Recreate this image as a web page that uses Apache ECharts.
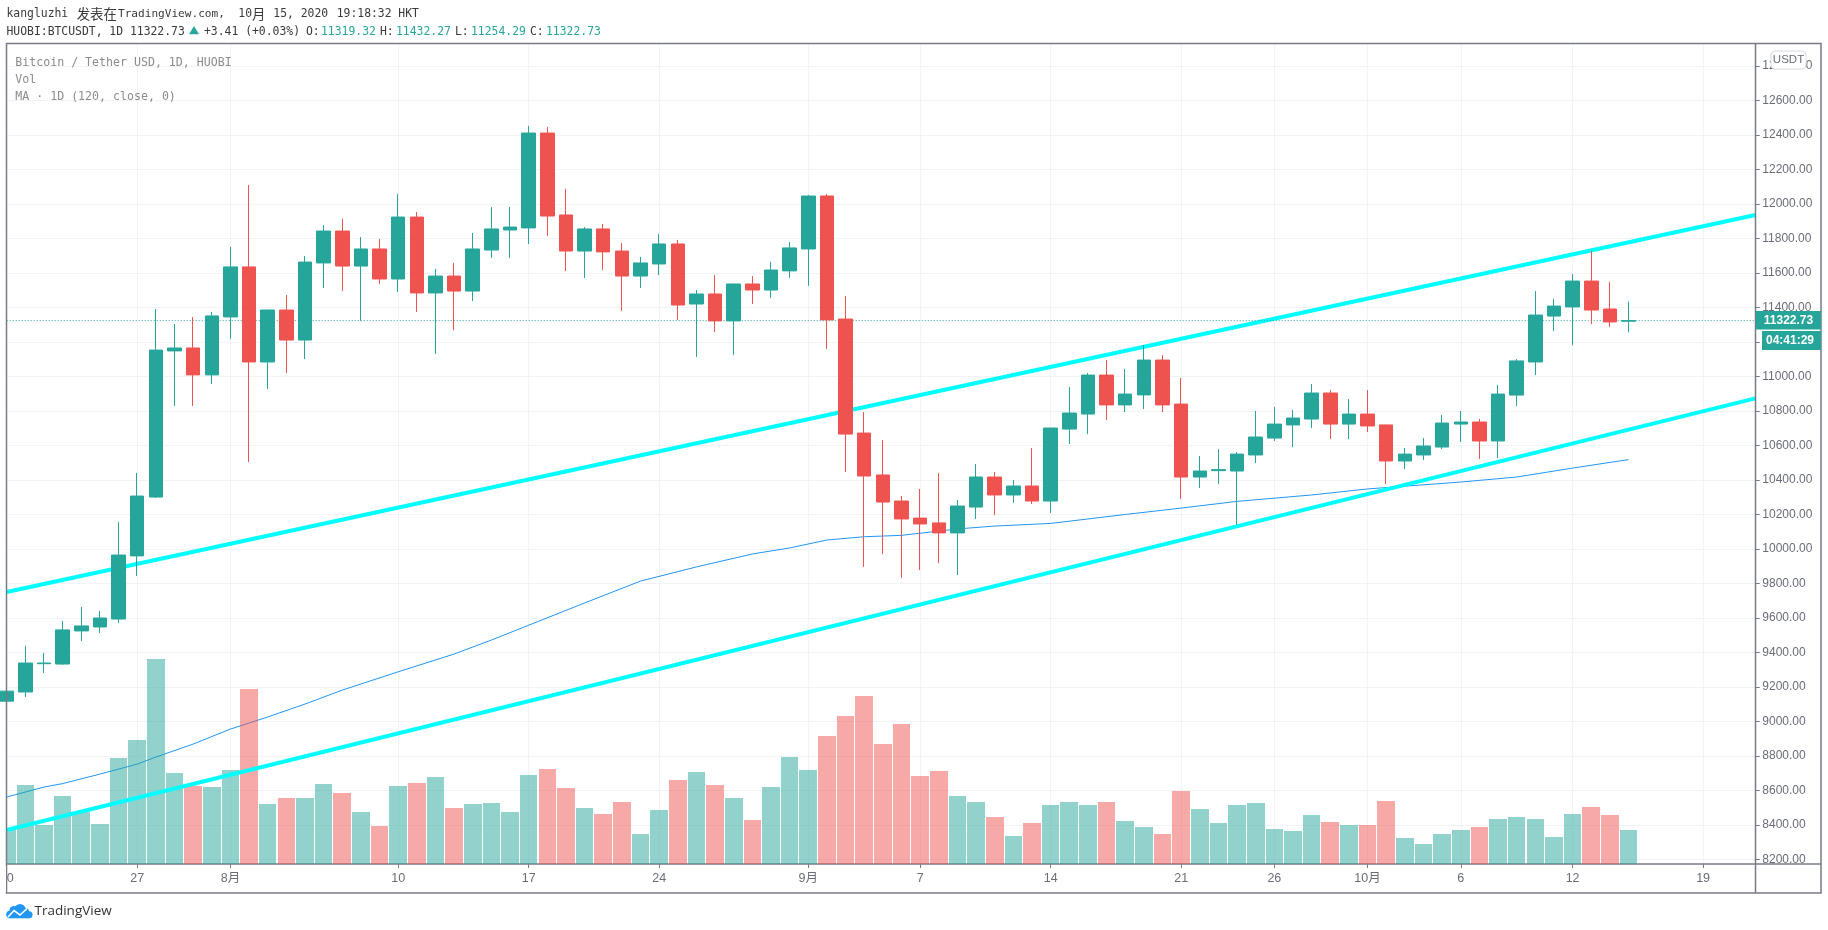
<!DOCTYPE html>
<html>

<head>
    <meta charset="utf-8">
    <title>BTCUSDT 1D</title>
    <script src="https://cdn.jsdelivr.net/npm/echarts@6/dist/echarts.min.js"></script>
    <style>
        body { margin: 0; background: #fff; }
        #chart { width: 1828px; height: 930px; }
    </style>
</head>

<body>
    <div id="chart"></div>
    <script>
        // daily candles, index 0 = 20 Jul 2020, last = 15 Oct 2020
        const opens = [9117, 9170, 9334, 9332, 9524, 9547, 9593, 9959, 10300, 11147,
            11164, 11008, 11344, 11634, 11083, 11384, 11210, 11657, 11842, 11639,
            11738, 11564, 11923, 11483, 11581, 11494, 11732, 11848, 11860, 12410,
            11935, 11726, 11854, 11726, 11581, 11651, 11767, 11419, 11477, 11321,
            11535, 11500, 11611, 11738, 12045, 11332, 10671, 10428, 10277, 10178,
            10150, 10092, 10242, 10416, 10312, 10364, 10277, 10694, 10781, 11007,
            10834, 10892, 11094, 10839, 10416, 10453, 10451, 10544, 10642, 10718,
            10752, 10903, 10723, 10781, 10718, 10509, 10544, 10590, 10723, 10735,
            10625, 10891, 11083, 11349, 11402, 11552, 11390, 11319.32];
        const closes = [9175, 9338, 9338, 9530, 9553, 9599, 9964, 10306, 11152, 11164,
            11008, 11350, 11634, 11083, 11384, 11210, 11662, 11842, 11639, 11738,
            11564, 11923, 11483, 11581, 11494, 11738, 11854, 11865, 12410, 11929,
            11726, 11854, 11721, 11581, 11657, 11767, 11413, 11477, 11321, 11535,
            11500, 11616, 11744, 12045, 11327, 10665, 10422, 10271, 10173, 10144,
            10092, 10248, 10416, 10312, 10364, 10277, 10700, 10787, 11007, 10834,
            10897, 11094, 10834, 10416, 10451, 10459, 10549, 10648, 10723, 10758,
            10903, 10723, 10781, 10712, 10509, 10549, 10596, 10729, 10735, 10625,
            10897, 11089, 11355, 11407, 11552, 11384, 11315, 11322.73];
        const lows = [9112, 9141, 9280, 9327, 9466, 9512, 9570, 9843, 10295, 10828,
            10828, 10955, 11216, 10503, 10926, 11019, 11100, 11512, 11495, 11322,
            11535, 11489, 11373, 11129, 11268, 11436, 11686, 11686, 11767, 11813,
            11610, 11570, 11616, 11379, 11512, 11587, 11327, 11112, 11257, 11124,
            11419, 11454, 11570, 11524, 11158, 10445, 9895, 9970, 9831, 9877,
            9918, 9848, 10173, 10196, 10266, 10260, 10208, 10607, 10665, 10747,
            10793, 10810, 10793, 10289, 10352, 10375, 10138, 10497, 10625, 10590,
            10700, 10636, 10636, 10677, 10375, 10462, 10515, 10578, 10619, 10520,
            10526, 10828, 11007, 11262, 11181, 11303, 11286, 11254.29];
        const highs = [9180, 9437, 9396, 9582, 9663, 9640, 10156, 10440, 11390, 11303,
            11344, 11373, 11750, 12109, 11386, 11471, 11697, 11877, 11912, 11807,
            11796, 12057, 11952, 11622, 11657, 11831, 11981, 11981, 12451, 12445,
            12086, 11865, 11883, 11773, 11692, 11825, 11790, 11500, 11587, 11537,
            11581, 11663, 11779, 12051, 12057, 11465, 10793, 10631, 10306, 10347,
            10439, 10283, 10492, 10445, 10399, 10584, 10702, 10938, 11019, 11094,
            11042, 11181, 11123, 10990, 10538, 10578, 10561, 10799, 10822, 10805,
            10955, 10920, 10868, 10920, 10720, 10584, 10642, 10776, 10799, 10752,
            10949, 11100, 11494, 11448, 11593, 11726, 11547, 11432.27];
        // no scale on the volume pane in the picture, so relative units only
        const volumes = [102, 237, 117, 204, 156, 120, 318, 372, 615, 273,
            234, 231, 282, 525, 180, 198, 198, 240, 213, 156,
            114, 234, 243, 261, 168, 180, 183, 156, 267, 285,
            228, 168, 150, 186, 90, 162, 252, 276, 237, 198,
            132, 231, 321, 282, 384, 444, 504, 360, 420, 264,
            279, 204, 186, 141, 84, 123, 177, 186, 177, 186,
            129, 111, 90, 219, 165, 123, 177, 183, 105, 99,
            147, 126, 117, 117, 189, 78, 60, 90, 102, 111,
            135, 141, 135, 81, 150, 171, 147, 102];

        // MA(120) read at these days
        const maDays = [0, 2, 3, 5, 7, 8, 10, 12, 14, 16, 18, 21, 24, 26, 31, 34, 37, 40, 42, 44, 46, 48, 51, 53, 56, 60, 63, 66, 70, 73, 78, 81, 84, 87];
        const maValues = [8561, 8619, 8639, 8694, 8752, 8793, 8868, 8955, 9025, 9100, 9181, 9287, 9390, 9471, 9686, 9813, 9895, 9970, 10005, 10051, 10070, 10078, 10115, 10132, 10147, 10199, 10236, 10275, 10312, 10347, 10387, 10416, 10468, 10517];

        // channel lines drawn by the author: [day, price] ends
        const DAY_MAX = 93.8;
        const upperChannel = [[0, 9750], [DAY_MAX, 11935]];
        const lowerChannel = [[0, 8370], [DAY_MAX, 10872]];

        const xTickDays = [0, 7, 12, 21, 28, 35, 43, 49, 56, 63, 68, 73, 78, 84, 91];
        const xTickLabels = ['20', '27', '8月', '10', '17', '24', '9月', '7', '14', '21', '26', '10月', '6', '12', '19'];
        const yTicks = [8200, 8400, 8600, 8800, 9000, 9200, 9400, 9600, 9800, 10000, 10200, 10400, 10600, 10800, 11000, 11200, 11400, 11600, 11800, 12000, 12200, 12400, 12600, 12800];
        const lastPrice = 11322.73;

        const UP = '#26a69a', DOWN = '#ef5350', FRAME = '#787b86', GRID = '#f2f3f8', LABEL = '#6a6d78';
        const MONO = '"DejaVu Sans Mono",monospace';
        const CJK = '"Noto Sans CJK SC"';
        const SCALE_FONT = '"Liberation Sans","Noto Sans CJK SC",sans-serif';

        const candleData = opens.map((o, i) => [i, o, closes[i], lows[i], highs[i]]);
        const volumeData = volumes.map((v, i) => [i, v]);

        function txt(text, x, y, fill, font, extra) {
            return {
                type: 'text', z: 100, silent: true,
                style: Object.assign({ text: text, x: x, y: y, fill: fill, font: font, verticalAlign: 'middle' }, extra || {})
            };
        }
        function logoBlob(cx, cy, r) {
            return { type: 'circle', z: 100, silent: true, shape: { cx: cx, cy: cy, r: r }, style: { fill: '#2196f3' } };
        }
        const headFont = '11.4px ' + MONO;
        const headCjk = '13.4px ' + CJK;
        const legendFont = '11.6px ' + MONO;
        const DARK = '#3a3a3a';

        // a real bar series on a value axis pads the axis extent, so volume goes through custom
        function renderVolume(params, api) {
            const day = api.value(0);
            const top = api.coord([day, api.value(1)]);
            const base = api.coord([day, 0]);
            const x0 = Math.round(top[0] - 8.8);
            const x1 = Math.round(top[0] + 8.8);
            const up = closes[params.dataIndex] >= opens[params.dataIndex];
            return {
                type: 'rect',
                shape: { x: x0, y: top[1], width: x1 - x0, height: base[1] - top[1] },
                style: { fill: up ? 'rgba(38,166,154,0.5)' : 'rgba(239,83,80,0.5)' }
            };
        }

        const graphics = [
            // outer frame of the TradingView widget
            { type: 'rect', z: 90, silent: true, shape: { x: 6.5, y: 43.5, width: 1814.5, height: 849.5 }, style: { fill: 'none', stroke: FRAME, lineWidth: 1.5 } },
            { type: 'line', z: 90, silent: true, shape: { x1: 1755.5, y1: 43.5, x2: 1755.5, y2: 893 }, style: { stroke: FRAME, lineWidth: 1.5 } },
            { type: 'line', z: 90, silent: true, shape: { x1: 1755.5, y1: 864, x2: 1821, y2: 864 }, style: { stroke: FRAME, lineWidth: 1.5 } },
            // the "2" of the first date label falls off the frame
            { type: 'rect', z: 92, silent: true, shape: { x: 0, y: 866, width: 6, height: 26 }, style: { fill: '#fff' } },

            txt('kangluzhi', 6.5, 14.5, DARK, headFont),
            txt('发表在', 76.7, 14, DARK, headCjk),
            txt('TradingView.com,', 118, 14.5, DARK, '11.1px ' + MONO),
            txt('10', 238.3, 14.5, DARK, headFont),
            txt('月', 252, 14, DARK, headCjk),
            txt('15,', 273.3, 14.5, DARK, headFont),
            txt('2020', 300.7, 14.5, DARK, headFont),
            txt('19:18:32', 336.7, 14.5, DARK, headFont),
            txt('HKT', 398.3, 14.5, DARK, headFont),

            txt('HUOBI:BTCUSDT, 1D 11322.73', 6.5, 32, DARK, headFont),
            { type: 'polygon', z: 100, silent: true, shape: { points: [[189, 34.3], [199, 34.3], [194, 26]] }, style: { fill: UP } },
            txt('+3.41 (+0.03%)', 204, 32, DARK, headFont),
            txt('O:', 306, 32, DARK, headFont),
            txt('11319.32', 321, 32, UP, headFont),
            txt('H:', 380, 32, DARK, headFont),
            txt('11432.27', 396, 32, UP, headFont),
            txt('L:', 455, 32, DARK, headFont),
            txt('11254.29', 471, 32, UP, headFont),
            txt('C:', 530, 32, DARK, headFont),
            txt('11322.73', 546, 32, UP, headFont),

            txt('Bitcoin / Tether USD, 1D, HUOBI', 15.3, 62.7, '#8c8c8c', legendFont),
            txt('Vol', 15.3, 79.7, '#8c8c8c', legendFont),
            txt('MA · 1D (120, close, 0)', 15.3, 96.7, '#8c8c8c', legendFont),

            // currency badge over the top of the price scale
            { type: 'rect', z: 95, silent: true, shape: { x: 1771, y: 51, width: 35, height: 18, r: 4 }, style: { fill: '#fff', stroke: '#d6d8e0', lineWidth: 1 } },
            txt('USDT', 1788.5, 60, LABEL, '11.5px "Liberation Sans"', { align: 'center' }),

            // last price tags
            { type: 'rect', z: 95, silent: true, shape: { x: 1756, y: 311, width: 65, height: 18.5 }, style: { fill: UP } },
            txt('11322.73', 1788.5, 320.5, '#fff', 'bold 12px "Liberation Sans"', { align: 'center' }),
            { type: 'rect', z: 95, silent: true, shape: { x: 1762, y: 331, width: 59, height: 19 }, style: { fill: UP } },
            txt('04:41:29', 1790, 340.5, '#fff', 'bold 12px "Liberation Sans"', { align: 'center' }),

            // logo
            logoBlob(10, 914.5, 3.8),
            logoBlob(14, 910.5, 4.5),
            logoBlob(20, 909.5, 5.5),
            logoBlob(25, 912, 4),
            logoBlob(29, 914.8, 3.5),
            { type: 'rect', z: 100, silent: true, shape: { x: 10, y: 912, width: 19, height: 6.3 }, style: { fill: '#2196f3' } },
            { type: 'polyline', z: 101, silent: true, shape: { points: [[8, 917], [14, 910.5], [20, 915], [27, 908.5]] }, style: { fill: 'none', stroke: '#fff', lineWidth: 1.6 } },
            txt('TradingView', 34.5, 911.5, '#333', '13.5px "Open Sans"')
        ];

        const option = {
            animation: false,
            backgroundColor: '#fff',
            // the clipped "20" label would otherwise push the plot to the right
            grid: { left: 6.7, right: 72.7, top: 43.5, bottom: 66, outerBoundsMode: 'none' },
            xAxis: {
                type: 'value',
                min: 0,
                max: DAY_MAX,
                axisLine: { show: true, onZero: false, lineStyle: { color: FRAME, width: 1.5 } },
                axisTick: { show: true, length: 4, customValues: xTickDays, lineStyle: { color: FRAME } },
                axisLabel: {
                    customValues: xTickDays,
                    margin: 8,
                    color: LABEL,
                    fontSize: 12.5,
                    fontFamily: SCALE_FONT,
                    formatter: v => xTickLabels[xTickDays.indexOf(v)]
                },
                splitLine: { show: true, lineStyle: { color: GRID, width: 1 } }
            },
            yAxis: [{
                type: 'value',
                position: 'right',
                min: 8173,
                max: 12929,
                axisLine: { show: false, onZero: false },
                axisTick: { show: true, length: 4.5, customValues: yTicks, lineStyle: { color: FRAME } },
                axisLabel: {
                    customValues: yTicks,
                    margin: 7,
                    color: LABEL,
                    fontSize: 12,
                    fontFamily: SCALE_FONT,
                    formatter: v => v.toFixed(2)
                },
                splitLine: { show: true, lineStyle: { color: GRID, width: 1 } }
            }, {
                // hidden scale for the volume bars
                type: 'value',
                min: 0,
                max: 2461,
                show: false
            }],
            series: [{
                name: 'MA',
                type: 'line',
                z: 1,
                data: maDays.map((d, i) => [d, maValues[i]]),
                showSymbol: false,
                lineStyle: { color: '#2196f3', width: 1 }
            }, {
                name: 'Vol',
                type: 'custom',
                z: 2,
                yAxisIndex: 1,
                clip: true,
                silent: true,
                data: volumeData,
                encode: { x: 0, y: 1 },
                renderItem: renderVolume
            }, {
                name: 'upper',
                type: 'line',
                z: 3,
                data: upperChannel,
                showSymbol: false,
                lineStyle: { color: '#00ffff', width: 4 }
            }, {
                name: 'lower',
                type: 'line',
                z: 3,
                data: lowerChannel,
                showSymbol: false,
                lineStyle: { color: '#00ffff', width: 4 }
            }, {
                name: 'last',
                type: 'line',
                z: 3,
                data: [[0, lastPrice], [DAY_MAX, lastPrice]],
                showSymbol: false,
                lineStyle: { color: UP, width: 1, type: [1, 2] }
            }, {
                name: 'BTCUSDT',
                type: 'candlestick',
                z: 4,
                data: candleData,
                barWidth: 14,
                itemStyle: { color: UP, color0: DOWN, borderColor: UP, borderColor0: DOWN, borderWidth: 1 }
            }],
            graphic: graphics
        };

        var chart = echarts.init(document.getElementById('chart'));
        chart.setOption(option);
    </script>
</body>

</html>
